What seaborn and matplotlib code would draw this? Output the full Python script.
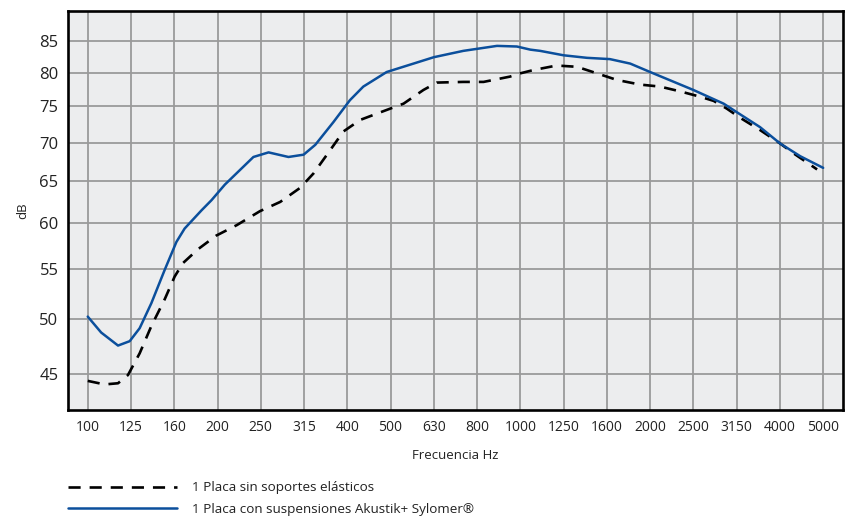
import numpy as np
import pandas as pd
import matplotlib
matplotlib.use("Agg")
import matplotlib.pyplot as plt
import seaborn as sns

# 1/3 octave bands shown on the x axis
bands = ['100', '125', '160', '200', '250', '315', '400', '500', '630', '800',
         '1000', '1250', '1600', '2000', '2500', '3150', '4000', '5000']
y_ticks = [45, 50, 55, 60, 65, 70, 75, 80, 85]

# values (x = band index, fractional between bands)
sin_x = [0, 0.39, 0.70, 0.93, 1.20, 1.47, 1.78, 2.01, 2.20, 2.55, 2.97, 3.45,
         3.98, 4.45, 4.91, 5.22, 5.53, 5.91, 6.30, 6.91, 7.30, 7.76, 8.07,
         8.68, 9.15, 9.76, 10.0, 10.30, 10.84, 11.31, 11.77, 12.23, 12.77,
         13.23, 13.69, 14.16, 14.47, 14.77, 15.08, 15.54, 16.0, 16.31, 16.86]
sin_db = [44.4, 44.1, 44.2, 44.9, 46.8, 49.3, 51.9, 54.2, 55.6, 57.1, 58.6, 59.8,
          61.4, 62.5, 64.2, 66.0, 68.4, 71.5, 73.1, 74.5, 75.4, 77.4, 78.5,
          78.6, 78.6, 79.4, 79.9, 80.4, 81.1, 80.9, 79.9, 78.9, 78.2,
          77.9, 77.2, 76.4, 75.8, 74.7, 73.4, 71.7, 69.9, 68.6, 66.5]

con_x = [0, 0.31, 0.70, 0.97, 1.20, 1.47, 1.78, 2.05, 2.24, 2.63, 2.86, 3.17,
         3.83, 4.18, 4.64, 4.99, 5.26, 5.68, 6.06, 6.37, 6.91, 7.53, 8.0,
         8.68, 9.46, 9.92, 10.23, 10.46, 11.0, 11.54, 12.07, 12.54, 13.0,
         14.0, 14.7, 15.0, 15.54, 16.0, 16.47, 17.0]
con_db = [50.2, 48.7, 47.5, 47.9, 49.1, 51.5, 54.9, 57.9, 59.4, 61.5, 62.7, 64.6,
          68.1, 68.7, 68.1, 68.4, 69.7, 72.8, 75.9, 77.9, 80.1, 81.4, 82.4,
          83.4, 84.2, 84.1, 83.6, 83.4, 82.7, 82.3, 82.1, 81.4, 80.1,
          77.4, 75.4, 74.2, 72.1, 69.9, 68.2, 66.7]

df_sin = pd.DataFrame({'band': sin_x, 'dB': sin_db})
df_con = pd.DataFrame({'band': con_x, 'dB': con_db})

sns.set_style('white', {'axes.facecolor': '#ecedee'})
plt.rcParams['font.family'] = ['Open Sans', 'DejaVu Sans']

fig = plt.figure(figsize=(8.46, 5.22), dpi=100)
ax = fig.add_axes([0.0807, 0.2146, 0.9153, 0.7643])

sns.lineplot(data=df_sin, x='band', y='dB', ax=ax, color='black', linewidth=1.9,
             linestyle=(0, (4.6, 3.4)), label='1 Placa sin soportes elásticos')
sns.lineplot(data=df_con, x='band', y='dB', ax=ax, color='#0b4f9c', linewidth=1.8,
             label='1 Placa con suspensiones Akustik+ Sylomer®')

ax.set_yscale('log')
ax.set_ylim(42, 90)
ax.set_yticks(y_ticks)
ax.set_yticklabels([str(t) for t in y_ticks])
ax.yaxis.set_minor_locator(matplotlib.ticker.NullLocator())
ax.set_xticks(range(len(bands)))
ax.set_xticklabels(bands)
ax.set_xlim(-0.45, len(bands) - 0.55)

ax.grid(True, color='#9a9a9a', linewidth=1.3)
ax.set_axisbelow(True)
for s in ax.spines.values():
    s.set_color('black')
    s.set_linewidth(1.9)
    s.set_visible(True)

ax.tick_params(axis='y', length=0, pad=7, labelsize=12, colors='#222222')
ax.tick_params(axis='x', length=0, pad=7, labelsize=10, colors='#222222')
ax.set_xlabel('Frecuencia Hz', fontsize=9.5, color='#222222', labelpad=10)
ax.set_ylabel('dB', fontsize=9.5, color='#222222', labelpad=7)

ax.get_legend().remove()
handles, labels = ax.get_legend_handles_labels()
fig.legend(handles, labels, loc='upper left', bbox_to_anchor=(0.0804, 0.078),
           frameon=False, fontsize=9.7, handlelength=8.1, handletextpad=1.1,
           labelspacing=0.62, borderpad=0, borderaxespad=0, labelcolor='#222222')

fig.savefig('out.png', dpi=100)
